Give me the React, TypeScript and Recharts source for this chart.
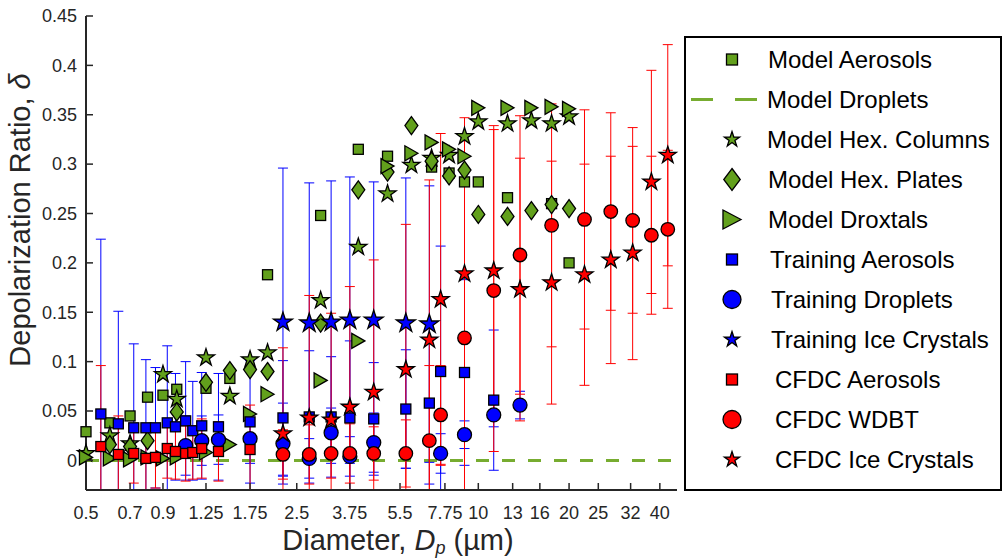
import React from 'react';
import { ComposedChart, Scatter, Line, XAxis, YAxis, ErrorBar } from 'recharts';

const INK = '#262626';
const GREEN = '#62a01c';
const GREEN_LINE = '#77ac30';
const BLUE = '#0000ff';
const RED = '#ff0000';
const FONT = '"Liberation Sans", Arial, Helvetica, sans-serif';

// plot frame
const W = 1003;
const H = 559;
const PLOT_LEFT = 86;
const PLOT_RIGHT = 677;
const PLOT_TOP = 16;
const PLOT_BOTTOM = 490;

const X_MIN = 0.5;
const X_MAX = 45.6;
const Y_MIN = -0.03;
const Y_MAX = 0.45;

const X_TICKS = [0.5, 0.7, 0.9, 1.25, 1.75, 2.5, 3.75, 5.5, 7.75, 10, 13, 16, 20, 25, 32, 40];
const Y_TICKS = [0, 0.05, 0.1, 0.15, 0.2, 0.25, 0.3, 0.35, 0.4, 0.45];

// model size grid (µm)
const MODEL_D = [0.5, 0.6, 0.7, 0.8, 0.9, 1.0, 1.25, 1.5, 1.75, 2.0, 3.0, 4.0, 5.0, 6.0, 7.0, 8.0, 9.0, 10, 12.5, 15, 17.5, 20];
const modelAerosols = [0.029, 0.038, 0.045, 0.064, 0.066, 0.072, 0.073, 0.083, null, 0.188, 0.248, 0.315, 0.308, null, 0.297, 0.291, 0.282, 0.282, 0.266, null, 0.26, 0.2];
const modelHexColumns = [0.007, 0.025, 0.017, null, 0.087, 0.062, 0.104, 0.065, 0.102, 0.109, 0.162, 0.216, 0.27, 0.299, 0.306, 0.309, 0.328, 0.343, 0.341, 0.344, 0.341, 0.348];
const modelHexPlates = [null, 0.016, 0.014, 0.02, null, 0.049, 0.079, 0.091, 0.092, 0.09, 0.139, 0.274, 0.292, 0.339, 0.303, 0.288, 0.294, 0.249, 0.247, 0.253, 0.259, 0.255];
const modelDroxtals = [0.003, 0.002, 0.001, 0.003, 0.002, 0.003, 0.008, 0.016, 0.047, 0.067, 0.081, 0.121, 0.298, 0.311, 0.322, 0.315, 0.308, 0.357, 0.357, 0.357, 0.358, 0.356];
const modelDropletD = [0.5, 45];
const modelDroplets = [0, 0];

// training chamber bins
const trainAerD = [0.56, 0.64, 0.72, 0.79, 0.85, 0.93, 0.99, 1.07, 1.13, 1.21, 1.375, 1.75, 2.25, 2.75, 3.25, 3.75, 4.5, 5.75, 6.88, 7.5, 9, 11.25];
const trainAer = [0.047, 0.037, 0.033, 0.033, 0.033, 0.038, 0.034, 0.04, 0.03, 0.035, 0.034, 0.039, 0.043, 0.044, 0.044, 0.043, 0.042, 0.052, 0.058, 0.09, 0.089, 0.061];
const trainAerErr = [0.177, 0.114, 0.085, 0.069, 0.061, 0.078, 0.054, 0.06, 0.05, 0.054, 0.054, 0.062, 0.058, 0.067, 0.061, 0.078, 0.057, 0.06, 0.082, 0.127, 0.094, 0.071];

const trainDropD = [1.07, 1.21, 1.375, 1.75, 2.25, 2.75, 3.25, 3.75, 4.5, 7.5, 9, 11.25, 13.75];
const trainDrop = [0.015, 0.02, 0.021, 0.022, 0.017, 0.002, 0.028, 0.004, 0.018, 0.007, 0.026, 0.046, 0.056];
const trainDropErr = [0.03, 0.025, 0.025, 0.025, 0.041, 0.02, 0.025, 0.02, 0.03, 0.02, 0.014, 0.012, 0.014];

const trainIceD = [2.25, 2.75, 3.25, 3.75, 4.5, 5.75, 6.88];
const trainIce = [0.14, 0.139, 0.14, 0.142, 0.142, 0.139, 0.138];
const trainIceErr = [0.156, 0.142, 0.143, 0.145, 0.14, 0.147, 0.14];

// CFDC bins
const cfdcAerD = [0.56, 0.64, 0.72, 0.79, 0.85, 0.93, 0.99, 1.07, 1.13, 1.21, 1.375, 1.75];
const cfdcAer = [0.014, 0.006, 0.007, 0.002, 0.003, 0.012, 0.009, 0.007, 0.008, 0.012, 0.009, 0.011];
const cfdcAerErr = [0.082, 0.039, 0.03, 0.032, 0.031, 0.03, 0.028, 0.028, 0.027, 0.03, 0.03, 0.045];

const cfdcD = [2.25, 2.75, 3.25, 3.75, 4.5, 5.75, 6.88, 7.5, 9, 11.25, 13.75, 17.5, 22.5, 27.5, 32.5, 37.5, 42.5];
const cfdcWdbt = [0.006, 0.006, 0.007, 0.007, 0.007, 0.007, 0.02, 0.046, 0.124, 0.172, 0.208, 0.238, 0.244, 0.252, 0.243, 0.228, 0.234];
const cfdcWdbtErr = [0.025, 0.03, 0.025, 0.03, 0.027, 0.034, 0.076, 0.05, 0.162, 0.163, 0.141, 0.123, 0.111, 0.1, 0.094, 0.08, 0.08];
const cfdcIce = [0.027, 0.043, 0.041, 0.054, 0.069, 0.092, 0.122, 0.163, 0.189, 0.192, 0.173, 0.18, 0.188, 0.203, 0.21, 0.282, 0.309];
const cfdcIceErr = [0.087, 0.124, 0.108, 0.122, 0.134, 0.147, 0.162, 0.168, 0.158, 0.147, 0.133, 0.123, 0.112, 0.105, 0.108, 0.113, 0.112];

type Pt = { d: number; v: number; e?: number };
type Kind = 'square' | 'circle' | 'star' | 'diamond' | 'triangle';

const pairs = (ds: number[], vs: (number | null)[], es?: number[]): Pt[] =>
  ds
    .map((d, i) => ({ d, v: vs[i] as number, e: es ? es[i] : undefined }))
    .filter((p) => p.v !== null && p.v !== undefined);

function Glyph({ kind, cx, cy, size, fill, aspect = 1 }: { kind: Kind; cx: number; cy: number; size: number; fill: string; aspect?: number }) {
  const common = { fill, stroke: '#000', strokeWidth: 1.3, strokeLinejoin: 'miter' as const };
  if (kind === 'square') {
    return <rect x={cx - size / 2} y={cy - size / 2} width={size} height={size} {...common} />;
  }
  if (kind === 'circle') {
    return <circle cx={cx} cy={cy} r={size / 2} {...common} />;
  }
  if (kind === 'diamond') {
    const h = size;
    const w = size * aspect;
    return <polygon points={`${cx},${cy - h / 2} ${cx + w / 2},${cy} ${cx},${cy + h / 2} ${cx - w / 2},${cy}`} {...common} />;
  }
  if (kind === 'triangle') {
    const h = size;
    const w = size * aspect;
    return <polygon points={`${cx + w / 2},${cy} ${cx - w / 2},${cy - h / 2} ${cx - w / 2},${cy + h / 2}`} {...common} />;
  }
  const R = size / 2;
  const r = R * 0.382;
  const pts: string[] = [];
  for (let k = 0; k < 10; k++) {
    const rad = k % 2 === 0 ? R : r;
    const a = (-90 + k * 36) * (Math.PI / 180);
    pts.push(`${cx + rad * Math.cos(a)},${cy + rad * Math.sin(a)}`);
  }
  return <polygon points={pts.join(' ')} {...common} />;
}

type Series = {
  name: string;
  data: Pt[];
  kind: Kind;
  fill: string;
  size: number;
  aspect?: number;
  bar?: string;
};

const MODEL: Series[] = [
  { name: 'Model Aerosols', data: pairs(MODEL_D, modelAerosols), kind: 'square', fill: GREEN, size: 10 },
  { name: 'Model Hex. Columns', data: pairs(MODEL_D, modelHexColumns), kind: 'star', fill: GREEN, size: 18 },
  { name: 'Model Hex. Plates', data: pairs(MODEL_D, modelHexPlates), kind: 'diamond', fill: GREEN, size: 18, aspect: 0.72 },
  { name: 'Model Droxtals', data: pairs(MODEL_D, modelDroxtals), kind: 'triangle', fill: GREEN, size: 15, aspect: 0.87 },
];

const MEASURED: Series[] = [
  { name: 'Training Aerosols', data: pairs(trainAerD, trainAer, trainAerErr), kind: 'square', fill: BLUE, size: 10, bar: BLUE },
  { name: 'Training Droplets', data: pairs(trainDropD, trainDrop, trainDropErr), kind: 'circle', fill: BLUE, size: 14, bar: BLUE },
  { name: 'Training Ice Crystals', data: pairs(trainIceD, trainIce, trainIceErr), kind: 'star', fill: BLUE, size: 20, bar: BLUE },
  { name: 'CFDC Aerosols', data: pairs(cfdcAerD, cfdcAer, cfdcAerErr), kind: 'square', fill: RED, size: 10, bar: RED },
  { name: 'CFDC WDBT', data: pairs(cfdcD, cfdcWdbt, cfdcWdbtErr), kind: 'circle', fill: RED, size: 13.5, bar: RED },
  { name: 'CFDC Ice Crystals', data: pairs(cfdcD, cfdcIce, cfdcIceErr), kind: 'star', fill: RED, size: 18, bar: RED },
];

const dropletLine = pairs(modelDropletD, modelDroplets);

// legend rows: marker + label
const LEGEND = [
  { name: 'Model Aerosols', kind: 'square' as Kind, fill: GREEN, size: 11, aspect: 1, tx: 768 },
  { name: 'Model Droplets', kind: null, fill: GREEN_LINE, size: 0, aspect: 1, tx: 767 },
  { name: 'Model Hex. Columns', kind: 'star' as Kind, fill: GREEN, size: 16, aspect: 1, tx: 767 },
  { name: 'Model Hex. Plates', kind: 'diamond' as Kind, fill: GREEN, size: 22, aspect: 0.75, tx: 768 },
  { name: 'Model Droxtals', kind: 'triangle' as Kind, fill: GREEN, size: 19, aspect: 0.95, tx: 768 },
  { name: 'Training Aerosols', kind: 'square' as Kind, fill: BLUE, size: 11, aspect: 1, tx: 770 },
  { name: 'Training Droplets', kind: 'circle' as Kind, fill: BLUE, size: 18, aspect: 1, tx: 771 },
  { name: 'Training Ice Crystals', kind: 'star' as Kind, fill: BLUE, size: 16, aspect: 1, tx: 771 },
  { name: 'CFDC Aerosols', kind: 'square' as Kind, fill: RED, size: 11, aspect: 1, tx: 775 },
  { name: 'CFDC WDBT', kind: 'circle' as Kind, fill: RED, size: 18, aspect: 1, tx: 775 },
  { name: 'CFDC Ice Crystals', kind: 'star' as Kind, fill: RED, size: 16, aspect: 1, tx: 775 },
];

const fmtY = (v: number) => String(Number(v.toFixed(2)));

const X_TICK_GAP = 16;

const XTick = (p: any) => {
  const { x, y, payload } = p;
  const axisY = y - X_TICK_GAP;
  return (
    <g>
      <line x1={x} x2={x} y1={axisY} y2={axisY - 7} stroke={INK} strokeWidth={1.5} />
      <text x={x} y={y} dy="0.71em" textAnchor="middle" fontFamily={FONT} fontSize={18} fill={INK}>
        {payload.value}
      </text>
    </g>
  );
};

const YTick = (p: any) => {
  const { x, y, payload } = p;
  const axisX = x + 9;
  return (
    <g>
      <line x1={axisX} x2={axisX + 7} y1={y} y2={y} stroke={INK} strokeWidth={1.5} />
      <text x={x} y={y} dy="0.35em" textAnchor="end" fontFamily={FONT} fontSize={18} fill={INK}>
        {fmtY(payload.value)}
      </text>
    </g>
  );
};

const markerShape = (s: Series) => (p: any) => (
  <Glyph kind={s.kind} cx={p.cx} cy={p.cy} size={s.size} fill={s.fill} aspect={s.aspect} />
);

export default function App() {
  return (
    <div style={{ position: 'absolute', left: 0, top: 0, width: W, height: H, background: '#fff' }}>
      {/* error bars are cut at the plot frame, markers are not */}
      <style>{`.recharts-errorBars { clip-path: url(#plotClip); }`}</style>
      <svg width={0} height={0} style={{ position: 'absolute' }}>
        <defs>
          <clipPath id="plotClip" clipPathUnits="userSpaceOnUse">
            <rect x={PLOT_LEFT} y={PLOT_TOP} width={PLOT_RIGHT - PLOT_LEFT} height={PLOT_BOTTOM - PLOT_TOP} />
          </clipPath>
        </defs>
      </svg>

      <ComposedChart width={W} height={H} margin={{ top: PLOT_TOP, right: W - PLOT_RIGHT, bottom: 0, left: 0 }}>
        <XAxis
          dataKey="d"
          type="number"
          scale="log"
          domain={[X_MIN, X_MAX]}
          ticks={X_TICKS}
          interval={0}
          height={H - PLOT_BOTTOM}
          tickSize={0}
          tickMargin={X_TICK_GAP}
          tickLine={false}
          axisLine={{ stroke: INK, strokeWidth: 2 }}
          tick={(p: any) => <XTick {...p} />}
        />
        <YAxis
          dataKey="v"
          type="number"
          domain={[Y_MIN, Y_MAX]}
          ticks={Y_TICKS}
          interval={0}
          width={PLOT_LEFT}
          tickSize={0}
          tickMargin={9}
          tickLine={false}
          axisLine={{ stroke: INK, strokeWidth: 2 }}
          tick={(p: any) => <YTick {...p} />}
        />
        <YAxis yAxisId="clip" hide type="number" domain={[Y_MIN, Y_MAX]} allowDataOverflow />

        <Line
          data={dropletLine}
          dataKey="v"
          stroke={GREEN_LINE}
          strokeWidth={3}
          strokeDasharray="13 13"
          dot={false}
          isAnimationActive={false}
          legendType="none"
        />

        {MEASURED.map((s) => (
          <Scatter
            key={s.name + '-bars'}
            yAxisId="clip"
            data={s.data}
            dataKey="v"
            shape={() => <g />}
            isAnimationActive={false}
            legendType="none"
          >
            <ErrorBar dataKey="e" direction="y" width={5} stroke={s.bar} strokeWidth={1} isAnimationActive={false} />
          </Scatter>
        ))}

        {[...MODEL, ...MEASURED].map((s) => (
          <Scatter key={s.name} data={s.data} dataKey="v" shape={markerShape(s)} isAnimationActive={false} legendType="none" />
        ))}
      </ComposedChart>

      <svg width={W} height={H} style={{ position: 'absolute', left: 0, top: 0, pointerEvents: 'none' }}>
        <text
          transform={`translate(30, 220) rotate(-90)`}
          textAnchor="middle"
          fontFamily={FONT}
          fontSize={29}
          fill={INK}
        >
          Depolarization Ratio, <tspan fontStyle="italic">δ</tspan>
        </text>
        <text x={398} y={550} textAnchor="middle" fontFamily={FONT} fontSize={29} fill={INK}>
          Diameter, <tspan fontStyle="italic">D</tspan>
          <tspan fontStyle="italic" fontSize={18} dy={4}>p</tspan>
          <tspan dy={-4}> (µm)</tspan>
        </text>

        <rect x={685} y={37} width={316} height={453} fill="#fff" stroke="#000" strokeWidth={2} />
        {LEGEND.map((row, i) => {
          const cy = 59.5 + i * 40;
          return (
            <g key={row.name}>
              {row.kind ? (
                <Glyph kind={row.kind} cx={732} cy={cy} size={row.size} fill={row.fill} aspect={row.aspect} />
              ) : (
                <line x1={691} x2={757} y1={cy} y2={cy} stroke={row.fill} strokeWidth={3} strokeDasharray="22 22" />
              )}
              <text x={row.tx} y={cy} dy="0.35em" fontFamily={FONT} fontSize={24} fill="#000">
                {row.name}
              </text>
            </g>
          );
        })}
      </svg>
    </div>
  );
}
